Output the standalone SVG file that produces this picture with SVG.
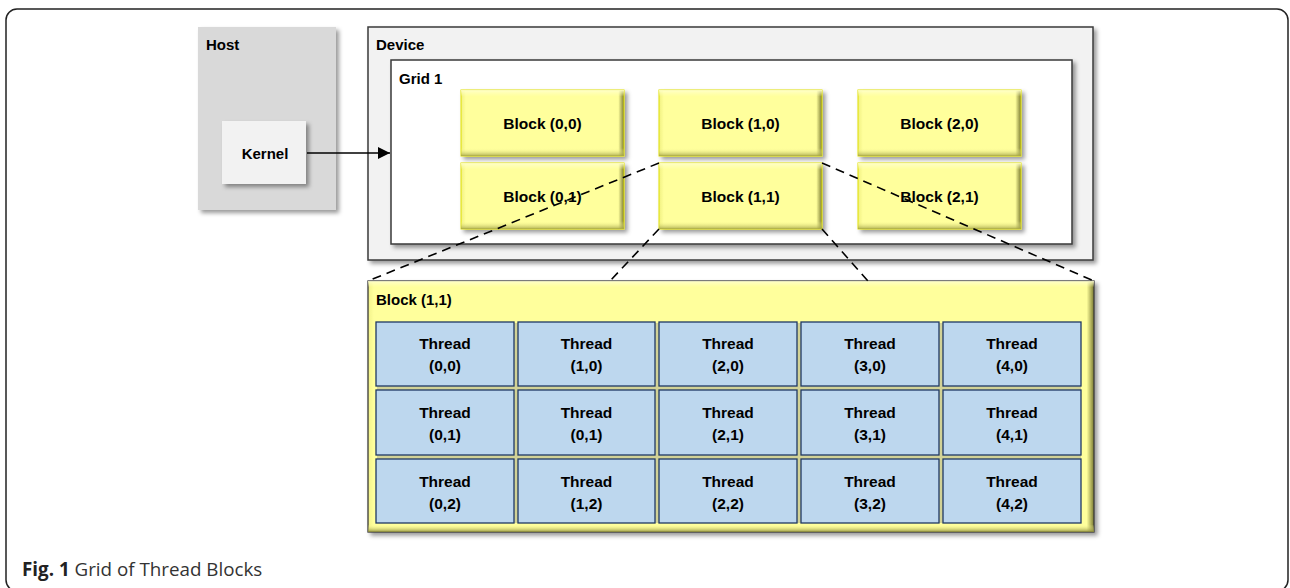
<svg xmlns="http://www.w3.org/2000/svg" width="1290" height="588" viewBox="0 0 1290 588">
<defs>
<filter id="sh" x="-10%" y="-10%" width="130%" height="130%">
<feDropShadow dx="3" dy="3" stdDeviation="2" flood-color="#000" flood-opacity="0.4"/>
</filter>
<linearGradient id="ybH" x1="0" y1="0" x2="1" y2="0">
<stop offset="0" stop-color="#f0f080"/>
<stop offset="0.03" stop-color="#ffff9c"/>
<stop offset="0.965" stop-color="#ffff9c"/>
<stop offset="1" stop-color="#7a7a30"/>
</linearGradient>
<linearGradient id="ybV" x1="0" y1="0" x2="0" y2="1">
<stop offset="0" stop-color="#ffffd0" stop-opacity="0.9"/>
<stop offset="0.1" stop-color="#ffffc0" stop-opacity="0"/>
<stop offset="0.88" stop-color="#ffff9c" stop-opacity="0"/>
<stop offset="1" stop-color="#a0a045" stop-opacity="0.85"/>
</linearGradient>
<linearGradient id="bbH" x1="0" y1="0" x2="1" y2="0">
<stop offset="0" stop-color="#f2f28a"/>
<stop offset="0.008" stop-color="#ffff9c"/>
<stop offset="0.99" stop-color="#ffff9c"/>
<stop offset="1" stop-color="#7a7a30"/>
</linearGradient>
<linearGradient id="bbV" x1="0" y1="0" x2="0" y2="1">
<stop offset="0" stop-color="#ffffd0" stop-opacity="0.9"/>
<stop offset="0.025" stop-color="#ffffc0" stop-opacity="0"/>
<stop offset="0.97" stop-color="#ffff9c" stop-opacity="0"/>
<stop offset="1" stop-color="#8a8a38" stop-opacity="0.9"/>
</linearGradient>
<marker id="arr" viewBox="0 0 10 10" refX="10" refY="5" markerWidth="12" markerHeight="12" markerUnits="userSpaceOnUse" orient="auto">
<path d="M0,0 L10,5 L0,10 z" fill="#000"/>
</marker>
</defs>
<style>
.t{font-family:"Liberation Sans",Arial,sans-serif;font-weight:bold;fill:#000}
.lb{font-size:15px}
.bk{font-size:15.5px;text-anchor:middle}
.th{font-size:15.5px;text-anchor:middle}
.blk{fill:url(#ybH);stroke:#e0e000;stroke-width:1}
.blkv{fill:url(#ybV);stroke:none}
.thr{fill:#bdd7ee;stroke:#1f3864;stroke-width:1.3}
.dash{fill:none;stroke:#000;stroke-width:1.6;stroke-dasharray:9,6}
</style>
<rect x="6" y="9" width="1282" height="582" rx="11" fill="#fff" stroke="#222" stroke-width="1.5"/>

<g id="host">
<rect x="198" y="27" width="138" height="183" fill="#d9d9d9" filter="url(#sh)"/>
<text class="t lb" x="206" y="50">Host</text>
</g>
<g id="kernel">
<rect x="222" y="121" width="84" height="63" fill="#f2f2f2" filter="url(#sh)"/>
<text class="t lb" x="265" y="159" text-anchor="middle">Kernel</text>
</g>
<g id="device">
<rect x="368" y="27" width="725" height="233" fill="#f2f2f2" stroke="#3a3a3a" stroke-width="1.5" filter="url(#sh)"/>
<text class="t lb" x="376" y="50">Device</text>
</g>
<g id="grid1">
<rect x="391" y="60" width="681" height="184" fill="#fff" stroke="#3a3a3a" stroke-width="1.5" filter="url(#sh)"/>
<text class="t lb" x="399" y="84">Grid 1</text>
</g>

<g id="block00"><rect class="blk" x="461" y="90" width="163" height="66" filter="url(#sh)"/><rect class="blkv" x="461" y="90" width="163" height="66"/><text class="t bk" x="542.5" y="129">Block (0,0)</text></g>
<g id="block10"><rect class="blk" x="659" y="90" width="163" height="66" filter="url(#sh)"/><rect class="blkv" x="659" y="90" width="163" height="66"/><text class="t bk" x="740.5" y="129">Block (1,0)</text></g>
<g id="block20"><rect class="blk" x="858" y="90" width="163" height="66" filter="url(#sh)"/><rect class="blkv" x="858" y="90" width="163" height="66"/><text class="t bk" x="939.5" y="129">Block (2,0)</text></g>
<g id="block01"><rect class="blk" x="461" y="163" width="163" height="66" filter="url(#sh)"/><rect class="blkv" x="461" y="163" width="163" height="66"/><text class="t bk" x="542.5" y="202">Block (0,1)</text></g>
<g id="block11"><rect class="blk" x="659" y="163" width="163" height="66" filter="url(#sh)"/><rect class="blkv" x="659" y="163" width="163" height="66"/><text class="t bk" x="740.5" y="202">Block (1,1)</text></g>
<g id="block21"><rect class="blk" x="858" y="163" width="163" height="66" filter="url(#sh)"/><rect class="blkv" x="858" y="163" width="163" height="66"/><text class="t bk" x="939.5" y="202">Block (2,1)</text></g>

<g id="bigblock">
<rect x="368" y="281" width="726" height="251" fill="url(#bbH)" stroke="#3a3a3a" stroke-width="1.3" filter="url(#sh)"/>
<rect x="368" y="281" width="726" height="251" fill="url(#bbV)"/>
<rect x="377" y="323" width="704" height="200" fill="#d2d296"/>
<text class="t lb" x="376" y="305">Block (1,1)</text>
</g>

<g id="threads">
<g id="t00"><rect class="thr" x="376" y="322" width="138" height="64"/><text class="t th" x="445" y="349">Thread</text><text class="t th" x="445" y="371">(0,0)</text></g>
<g id="t10"><rect class="thr" x="518" y="322" width="137" height="64"/><text class="t th" x="586.5" y="349">Thread</text><text class="t th" x="586.5" y="371">(1,0)</text></g>
<g id="t20"><rect class="thr" x="659" y="322" width="138" height="64"/><text class="t th" x="728" y="349">Thread</text><text class="t th" x="728" y="371">(2,0)</text></g>
<g id="t30"><rect class="thr" x="801" y="322" width="138" height="64"/><text class="t th" x="870" y="349">Thread</text><text class="t th" x="870" y="371">(3,0)</text></g>
<g id="t40"><rect class="thr" x="943" y="322" width="138" height="64"/><text class="t th" x="1012" y="349">Thread</text><text class="t th" x="1012" y="371">(4,0)</text></g>

<g id="t01"><rect class="thr" x="376" y="390" width="138" height="65"/><text class="t th" x="445" y="418">Thread</text><text class="t th" x="445" y="440">(0,1)</text></g>
<g id="t11"><rect class="thr" x="518" y="390" width="137" height="65"/><text class="t th" x="586.5" y="418">Thread</text><text class="t th" x="586.5" y="440">(0,1)</text></g>
<g id="t21"><rect class="thr" x="659" y="390" width="138" height="65"/><text class="t th" x="728" y="418">Thread</text><text class="t th" x="728" y="440">(2,1)</text></g>
<g id="t31"><rect class="thr" x="801" y="390" width="138" height="65"/><text class="t th" x="870" y="418">Thread</text><text class="t th" x="870" y="440">(3,1)</text></g>
<g id="t41"><rect class="thr" x="943" y="390" width="138" height="65"/><text class="t th" x="1012" y="418">Thread</text><text class="t th" x="1012" y="440">(4,1)</text></g>

<g id="t02"><rect class="thr" x="376" y="459" width="138" height="64"/><text class="t th" x="445" y="487">Thread</text><text class="t th" x="445" y="509">(0,2)</text></g>
<g id="t12"><rect class="thr" x="518" y="459" width="137" height="64"/><text class="t th" x="586.5" y="487">Thread</text><text class="t th" x="586.5" y="509">(1,2)</text></g>
<g id="t22"><rect class="thr" x="659" y="459" width="138" height="64"/><text class="t th" x="728" y="487">Thread</text><text class="t th" x="728" y="509">(2,2)</text></g>
<g id="t32"><rect class="thr" x="801" y="459" width="138" height="64"/><text class="t th" x="870" y="487">Thread</text><text class="t th" x="870" y="509">(3,2)</text></g>
<g id="t42"><rect class="thr" x="943" y="459" width="138" height="64"/><text class="t th" x="1012" y="487">Thread</text><text class="t th" x="1012" y="509">(4,2)</text></g>
</g>

<g id="connectors">
<line x1="307" y1="153" x2="390" y2="153" stroke="#000" stroke-width="1.6" marker-end="url(#arr)"/>
<line class="dash" x1="659" y1="163" x2="368" y2="281"/>
<line class="dash" x1="822" y1="163" x2="1094" y2="281"/>
<line class="dash" x1="659" y1="229" x2="610" y2="281"/>
<line class="dash" x1="822" y1="229" x2="868" y2="281"/>
</g>

<text x="22" y="576" font-family="'Open Sans','Noto Sans',sans-serif" font-size="18.8" fill="#333"><tspan font-weight="bold" fill="#222">Fig. 1</tspan> Grid of Thread Blocks</text>
</svg>
